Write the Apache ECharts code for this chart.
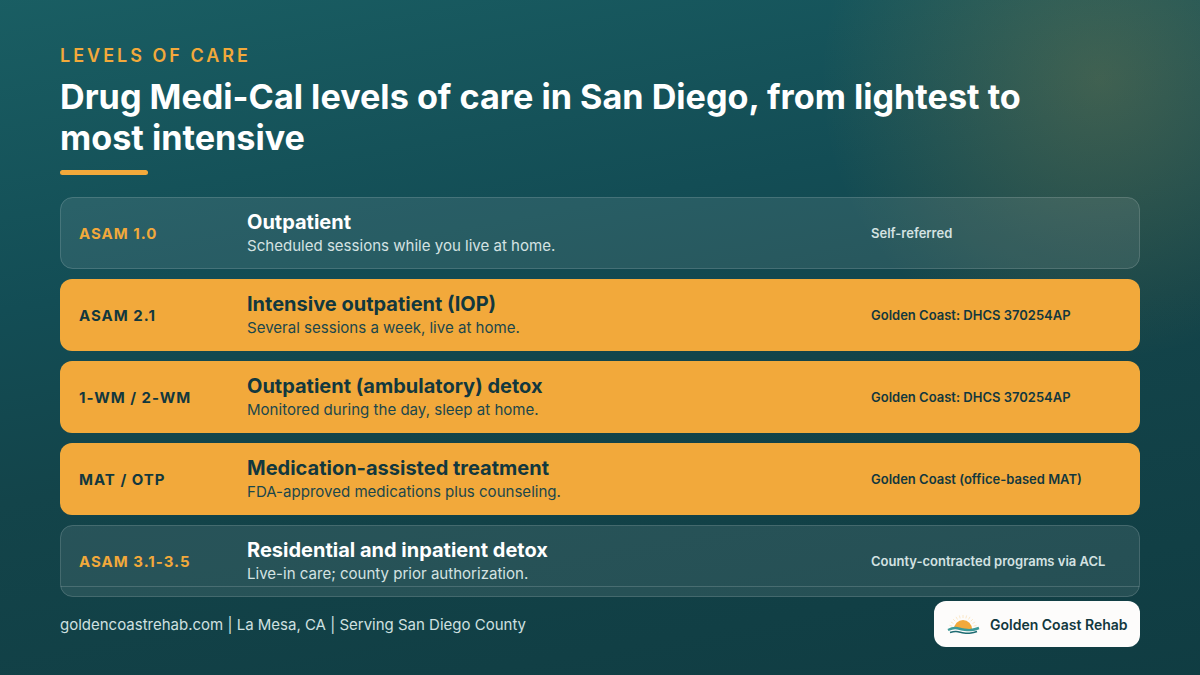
<!DOCTYPE html>
<html>
<head>
<meta charset="utf-8">
<title>Levels of care</title>
<style>
  html, body { margin: 0; padding: 0; background: #124046; }
  .main { width: 1200px; height: 675px; }
</style>
<script src="https://cdn.jsdelivr.net/npm/echarts@6/dist/echarts.min.js"></script>
</head>
<body>
<div class="main"></div>
<script>
var codes = ['ASAM 1.0', 'ASAM 2.1', '1-WM / 2-WM', 'MAT / OTP', 'ASAM 3.1-3.5'];
var names = ['Outpatient', 'Intensive outpatient (IOP)', 'Outpatient (ambulatory) detox', 'Medication-assisted treatment', 'Residential and inpatient detox'];
var details = ['Scheduled sessions while you live at home.', 'Several sessions a week, live at home.', 'Monitored during the day, sleep at home.', 'FDA-approved medications plus counseling.', 'Live-in care; county prior authorization.'];
var access = ['Self-referred', 'Golden Coast: DHCS 370254AP', 'Golden Coast: DHCS 370254AP', 'Golden Coast (office-based MAT)', 'County-contracted programs via ACL'];
var highlighted = [false, true, true, true, false];
var rowSpan = [1, 1, 1, 1, 1];

var eyebrow = 'LEVELS OF CARE';
var heading = 'Drug Medi-Cal levels of care in San Diego, from lightest to\nmost intensive';
var footer = 'goldencoastrehab.com | La Mesa, CA | Serving San Diego County';
var brand = 'Golden Coast Rehab';

var amber = '#f2a93b';
var ink = '#12383e';
var font = 'Inter';

var myChart = echarts.init(document.querySelector('.main'), null, { renderer: 'svg' });

// small sun-and-waves mark in the white pill
function logo() {
  var parts = [];
  for (var i = 0; i <= 12; i++) {
    var a = Math.PI * i / 12;
    parts.push({
      type: 'line', silent: true, z: 7,
      shape: {
        x1: 963 - Math.cos(a) * 11, y1: 629 - Math.sin(a) * 11,
        x2: 963 - Math.cos(a) * 14, y2: 629 - Math.sin(a) * 14
      },
      style: { stroke: '#fbe8c8', lineWidth: 1 }
    });
  }
  parts.push({ type: 'sector', silent: true, z: 8, shape: { cx: 963, cy: 629, r: 9, r0: 0, startAngle: Math.PI, endAngle: Math.PI * 2 }, style: { fill: amber } });
  parts.push({ type: 'polyline', silent: true, z: 9, shape: { points: [[948, 630], [955, 628], [963, 629.5], [971, 630], [979, 628]], smooth: 0.4 }, style: { stroke: '#3c9a98', lineWidth: 2.4, fill: 'none' } });
  parts.push({ type: 'polyline', silent: true, z: 9, shape: { points: [[950, 632.5], [956, 631.5], [964, 633], [971, 633], [977, 631.5]], smooth: 0.4 }, style: { stroke: '#1f6b72', lineWidth: 1.6, fill: 'none' } });
  return parts;
}

var option = {
  animation: false,
  backgroundColor: {
    type: 'linear', x: 0.253, y: -0.26, x2: 0.747, y2: 1.26,
    colorStops: [
      { offset: 0, color: '#1c6468' },
      { offset: 0.38, color: '#134d55' },
      { offset: 0.55, color: '#13444a' },
      { offset: 1, color: '#0f3a40' }
    ]
  },
  title: [
    { text: eyebrow, left: 55, top: 41, textStyle: { color: amber, fontFamily: font, fontSize: 18, fontWeight: 600 } },
    { text: heading, left: 55, top: 71, textStyle: { color: '#ffffff', fontFamily: font, fontSize: 34.2, fontWeight: 700, lineHeight: 41 } }
  ],
  grid: { left: 60, right: 60, top: 192, height: 410 },
  xAxis: { type: 'value', min: 0, max: 1, show: false },
  yAxis: { type: 'category', data: codes, inverse: true, show: false },
  series: [{
    type: 'bar',
    barWidth: 72,
    silent: true,
    data: rowSpan.map(function (v, i) {
      return {
        value: v,
        itemStyle: highlighted[i]
          ? { color: amber, borderRadius: 12 }
          : { color: 'rgba(255,255,255,0.09)', borderColor: 'rgba(255,255,255,0.18)', borderWidth: 1, borderRadius: 12 }
      };
    })
  }, {
    type: 'custom',
    z: 5,
    silent: true,
    data: codes.map(function (c, i) { return [0, i]; }),
    encode: { x: 0, y: 1 },
    renderItem: function (params, api) {
      var i = params.dataIndex;
      var p = api.coord([0, i]);
      var hot = highlighted[i];
      function label(dx, dy, text, fill, size, weight) {
        return {
          type: 'text', x: p[0] + dx, y: p[1] + dy,
          style: { text: text, fill: fill, font: weight + ' ' + size + 'px ' + font, textAlign: 'left', textVerticalAlign: 'middle' }
        };
      }
      return {
        type: 'group',
        children: [
          label(19, 0, codes[i], hot ? ink : amber, 15, 700),
          label(187, -11, names[i], hot ? ink : '#ffffff', 20, 700),
          label(187, 12.5, details[i], hot ? '#1b474b' : '#d4e2e2', 15.05, 400),
          label(811, 0, access[i], hot ? ink : '#d4e2e2', 13, 600)
        ]
      };
    }
  }],
  graphic: [
    {
      type: 'rect', z: -10, silent: true,
      shape: { x: 0, y: 0, width: 1200, height: 675 },
      style: {
        fill: {
          type: 'radial', x: 1100, y: 80, r: 280, global: true,
          colorStops: [
            { offset: 0, color: 'rgba(242,169,59,0.2)' },
            { offset: 1, color: 'rgba(242,169,59,0)' }
          ]
        }
      }
    },
    { type: 'rect', silent: true, shape: { x: 60, y: 170, width: 88, height: 5, r: 2.5 }, style: { fill: amber } },
    { type: 'line', silent: true, z: 5, shape: { x1: 60.5, y1: 586.5, x2: 1139.5, y2: 586.5 }, style: { stroke: 'rgba(255,255,255,0.16)', lineWidth: 1 } },
    { type: 'text', silent: true, x: 60, y: 624, style: { text: footer, fill: '#cfe0e0', font: '400 15px ' + font, textVerticalAlign: 'middle' } },
    { type: 'rect', silent: true, z: 6, shape: { x: 934, y: 601, width: 206, height: 46, r: 12 }, style: { fill: '#fdfcfb' } },
    { type: 'text', silent: true, z: 7, x: 990, y: 624.5, style: { text: brand, fill: ink, font: '600 14px ' + font, textVerticalAlign: 'middle' } },
    { type: 'group', silent: true, children: logo() }
  ]
};

myChart.setOption(option);

// zrender has no letter spacing, so set it on the svg text afterwards
function spaceLetters() {
  document.querySelectorAll('.main svg text').forEach(function (t) {
    if (t.textContent === eyebrow) t.setAttribute('letter-spacing', '3');
    if (codes.indexOf(t.textContent) >= 0) t.setAttribute('letter-spacing', '1');
  });
}
spaceLetters();
myChart.on('finished', spaceLetters);
</script>
</body>
</html>
